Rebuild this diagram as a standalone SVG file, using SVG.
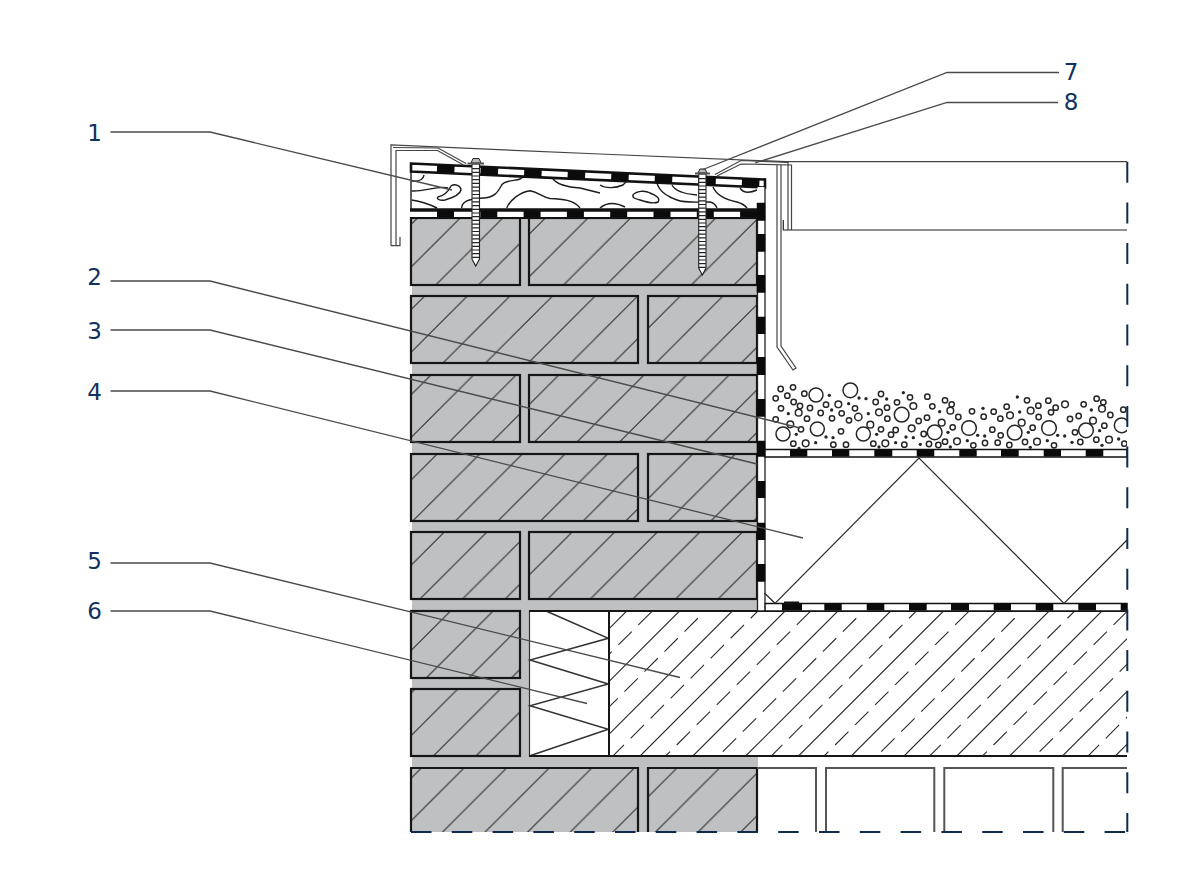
<svg xmlns="http://www.w3.org/2000/svg" width="1200" height="876" viewBox="0 0 1200 876">
<style>
.brick{fill:url(#hatch);stroke:#161616;stroke-width:2.2}
.thin{fill:none;stroke:#2a2a2a;stroke-width:1.2}
.zig{fill:none;stroke:#333;stroke-width:1.5}
.fl{fill:none;stroke:#444;stroke-width:1.2}
.mem{fill:#fff;stroke:#111;stroke-width:1.5}
.blk{fill:none;stroke:#0b0b0b}
.wood{fill:none;stroke:#1c1c1c;stroke-width:1.4}
.lead{fill:none;stroke:#4a4a4a;stroke-width:1.3}
.nav{fill:none;stroke:#10294f;stroke-width:2}
.num{font-family:"DejaVu Sans",sans-serif;font-size:23px;fill:#12315f;text-anchor:middle}
.scr{fill:#fff;stroke:#222;stroke-width:1.1}
.g circle{fill:none;stroke:#262626;stroke-width:4.5}
.g .d{fill:#262626;stroke:none}
</style>
<defs>
<pattern id="hatch" patternUnits="userSpaceOnUse" width="42.6" height="42.6">
<rect width="42.6" height="42.6" fill="#bfc0c1"/>
<path d="M-1 40.2L40.2 -1M38.2 43.6L43.6 38.2" stroke="#2b2b2b" stroke-width="1" fill="none"/>
</pattern>
<clipPath id="cc"><rect x="609" y="611" width="518" height="145"/></clipPath>
<clipPath id="gc"><rect x="765" y="370" width="362" height="79"/></clipPath>
</defs>
<rect width="1200" height="876" fill="#fff"/>
<g id="mortar"><rect x="412" y="218" width="346" height="614" fill="#bfc0c1"/></g>
<g id="bricks">
<rect class="brick" x="411" y="218" width="109" height="67"/>
<rect class="brick" x="529" y="218" width="228" height="67"/>
<rect class="brick" x="411" y="296" width="227" height="67"/>
<rect class="brick" x="648" y="296" width="109" height="67"/>
<rect class="brick" x="411" y="375" width="109" height="67"/>
<rect class="brick" x="529" y="375" width="228" height="67"/>
<rect class="brick" x="411" y="454" width="227" height="67"/>
<rect class="brick" x="648" y="454" width="109" height="67"/>
<rect class="brick" x="411" y="532" width="109" height="67"/>
<rect class="brick" x="529" y="532" width="228" height="67"/>
<rect class="brick" x="411" y="611" width="109" height="67"/>
<rect class="brick" x="411" y="689" width="109" height="67"/>
<path class="brick" d="M411 832V768H638V832"/>
<path class="brick" d="M648 832V768H757V832"/>
</g>
<g id="cavity-insulation">
<rect x="529.5" y="611" width="79.5" height="145" fill="#fff" stroke="#333" stroke-width="1.2"/>
<path class="zig" d="M546 611L608.3 638.3L530 660L608.3 684L530 705.7L608.3 729.3L530 755.7"/>
</g>
<g id="concrete">
<rect x="609" y="611" width="518" height="145" fill="#fff"/>
<g clip-path="url(#cc)">
<path fill="none" stroke="#2b2b2b" stroke-width="1.1" d="M481.7 756L626.7 611M534.5 756L679.5 611M587.3 756L732.3 611M640.1 756L785.1 611M692.9 756L837.9 611M745.7 756L890.7 611M798.5 756L943.5 611M851.3 756L996.3 611M904.1 756L1049.1 611M956.9 756L1101.9 611M1009.7 756L1154.7 611M1062.5 756L1207.5 611M1115.3 756L1260.3 611"/>
<path fill="none" stroke="#2b2b2b" stroke-width="1.1" stroke-dasharray="18.9 9.4" d="M498.3 765L663.3 600M544.4 771.67L716.1 600M610.6 758.33L768.9 600M656.7 765L821.7 600M702.8 771.67L874.5 600M769 758.33L927.3 600M815.1 765L980.1 600M861.2 771.67L1032.9 600M927.4 758.33L1085.7 600M973.5 765L1138.5 600M1019.6 771.67L1191.3 600M1085.8 758.33L1244.1 600"/>
</g>
<path d="M529 611H1127M529 756H1127M609 611V756" fill="none" stroke="#161616" stroke-width="2"/>
</g>
<g id="blocks">
<path fill="none" stroke="#555" stroke-width="2" d="M757 768H816V832M826 832V768H934.3V832M944.3 832V768H1053.3V832M1062.7 832V768H1127"/>
</g>
<g id="timber">
<path d="M411 171H757V209H411Z" fill="#fff"/>
<path class="wood" d="M411 172V209"/>
<path class="wood" d="M411.7 181Q423 182 424 175M411.7 191C423 192 440 185 448 188M438 197C443 196 448 192 451 186C455 183 461 186 461 190C460 195 452 198 445 200C440 201 436 199 438 197ZM411.7 200Q425 202 437 208M461.7 208C462 202 467 199 483 198C494 198 498 192 501.7 185C505 180 516 181 520 179Q524 177 525 175M506.7 208C510 200 520 192 530 190.7C538 192 542 197 550 198.5C562 199 574 200 580 208M553 179C557 184 565 187 580 188L600 193M600 185C606 189 616 188 623 185L628 180M600 208C606 203 615 202 625 207M633 195C636 191 645 190 650 193C655 195 661 198 658 202C654 204 646 202 640 200C636 199 632 198 633 195ZM657 183C659 191 668 197 677 200C684 203 700 202 710 202Q715 203 717 208M672 185C675 191 685 194 697 195M713 187C716 194 722 199 737 202Q744 204 747 208M740 188C744 194 750 193 757 190"/>
</g>
<g id="membrane-top">
<path class="mem" style="stroke-width:2.6" d="M411 163.5L765 179.5V187.5L411 171.5Z"/>
<path class="blk" stroke-width="7.5" stroke-dasharray="17.5 26.1" d="M437 168.7L765 183.5"/>
</g>
<g id="membrane-under-timber">
<rect x="411" y="210" width="346" height="8" fill="#fff"/>
<path class="blk" stroke-width="7" stroke-dasharray="17 26.3" d="M437 214.5H757"/>
<path d="M410 210H757" stroke="#111" stroke-width="3.4"/>
<path d="M411 218H757" stroke="#111" stroke-width="2"/>
</g>
<g id="membrane-wall">
<rect x="757.5" y="187" width="7.5" height="424" fill="#fff"/>
<path d="M765 187V603M757.5 218V611H1127" fill="none" stroke="#222" stroke-width="1.3"/>
<path class="blk" stroke-width="8.5" d="M761 202.7V220.7M761 234V251.7M761 275V292.7M761 316.7V334M761 357V375M761 399V416.7M761 440.7V456.7M761 481V498M761 522.7V540M761 564V581.7"/>
</g>
<g id="membrane-deck">
<path class="mem" d="M765 603.5H1127V611H765Z"/>
<path class="blk" stroke-width="7" d="M782 607H802M824.3 607H841.7M866.7 607H884.3M909 607H926.7M951 607H969M993.7 607H1011M1035.7 607H1053.3M1078.3 607H1096M1120.7 607H1127"/>
<rect x="784" y="601.5" width="15" height="3" fill="#111"/>
</g>
<g id="membrane-upper">
<path class="mem" d="M765 449.5H1127V457H765Z"/>
<path class="blk" stroke-width="7" d="M790 453H807.3M832 453H849.3M874.3 453H892.3M916.7 453H934.3M959.3 453H976.7M1001 453H1018.7M1043.7 453H1061M1085.7 453H1103.3"/>
</g>
<g id="drainage-layer">
<path class="thin" d="M764.5 593L775 603.3L919 458L1064 603.3L1127 540"/>
</g>
<g id="gravel" clip-path="url(#gc)">
<g class="g" transform="translate(750 340) scale(.33333)">
<circle cx="198" cy="165" r="21"/><circle cx="301" cy="151" r="22"/><circle cx="99" cy="282" r="21"/><circle cx="202" cy="267" r="21"/><circle cx="340" cy="282" r="21"/><circle cx="455" cy="224" r="22"/><circle cx="554" cy="277" r="22"/>
<circle cx="92" cy="147" r="8"/><circle cx="129" cy="142" r="8"/><circle cx="112" cy="167" r="8"/><circle cx="77" cy="175" r="8"/><circle cx="163" cy="161" r="8"/><circle cx="131" cy="186" r="8"/><circle cx="93" cy="205" r="8"/><circle cx="150" cy="198" r="8"/><circle cx="180" cy="204" r="8"/><circle cx="146" cy="218" r="10"/><circle cx="212" cy="219" r="8"/><circle cx="228" cy="194" r="8"/><circle cx="265" cy="193" r="10"/><circle cx="275" cy="220" r="8"/><circle cx="315" cy="205" r="8"/><circle cx="246" cy="235" r="8"/><circle cx="171" cy="236" r="8"/><circle cx="297" cy="241" r="8"/><circle cx="325" cy="231" r="11"/><circle cx="377" cy="186" r="8"/><circle cx="393" cy="162" r="8"/><circle cx="411" cy="203" r="8"/><circle cx="387" cy="217" r="10"/><circle cx="412" cy="236" r="8"/><circle cx="441" cy="187" r="8"/><circle cx="480" cy="172" r="8"/><circle cx="490" cy="198" r="10"/><circle cx="532" cy="170" r="8"/><circle cx="547" cy="199" r="8"/><circle cx="531" cy="233" r="8"/><circle cx="506" cy="243" r="8"/><circle cx="77" cy="238" r="8"/><circle cx="121" cy="253" r="10"/><circle cx="153" cy="268" r="8"/><circle cx="273" cy="274" r="8"/><circle cx="361" cy="254" r="10"/><circle cx="393" cy="268" r="8"/><circle cx="437" cy="270" r="8"/><circle cx="423" cy="284" r="8"/><circle cx="485" cy="265" r="10"/><circle cx="521" cy="282" r="8"/><circle cx="130" cy="311" r="8"/><circle cx="167" cy="310" r="10"/><circle cx="250" cy="314" r="8"/><circle cx="288" cy="314" r="8"/><circle cx="370" cy="311" r="8"/><circle cx="406" cy="310" r="10"/><circle cx="463" cy="314" r="8"/><circle cx="537" cy="312" r="8"/><circle cx="565" cy="315" r="8"/>
<circle class="d" cx="238" cy="166" r="5"/><circle class="d" cx="327" cy="174" r="5"/><circle class="d" cx="348" cy="176" r="5"/><circle class="d" cx="296" cy="191" r="5"/><circle class="d" cx="245" cy="210" r="5"/><circle class="d" cx="355" cy="221" r="5"/><circle class="d" cx="410" cy="177" r="5"/><circle class="d" cx="460" cy="158" r="5"/><circle class="d" cx="115" cy="221" r="5"/><circle class="d" cx="139" cy="283" r="5"/><circle class="d" cx="228" cy="291" r="5"/><circle class="d" cx="249" cy="293" r="5"/><circle class="d" cx="380" cy="283" r="5"/><circle class="d" cx="468" cy="291" r="5"/><circle class="d" cx="490" cy="293" r="5"/><circle class="d" cx="569" cy="215" r="5"/><circle class="d" cx="197" cy="308" r="5"/><circle class="d" cx="437" cy="308" r="5"/><circle class="d" cx="511" cy="313" r="5"/><circle class="d" cx="147" cy="325" r="5"/><circle class="d" cx="387" cy="321" r="5"/>
</g>
<g class="g" transform="translate(940 370) scale(.33333)">
<circle cx="87" cy="174" r="22"/><circle cx="224" cy="188" r="22"/><circle cx="327" cy="174" r="22"/><circle cx="438" cy="181" r="22"/><circle cx="545" cy="166" r="22"/>
<circle cx="15" cy="91" r="8"/><circle cx="35" cy="103" r="8"/><circle cx="31" cy="122" r="10"/><circle cx="55" cy="141" r="8"/><circle cx="96" cy="124" r="8"/><circle cx="161" cy="125" r="8"/><circle cx="131" cy="140" r="8"/><circle cx="181" cy="146" r="8"/><circle cx="200" cy="110" r="8"/><circle cx="210" cy="136" r="10"/><circle cx="261" cy="91" r="8"/><circle cx="295" cy="107" r="8"/><circle cx="272" cy="122" r="10"/><circle cx="296" cy="141" r="8"/><circle cx="325" cy="92" r="8"/><circle cx="347" cy="113" r="8"/><circle cx="333" cy="127" r="8"/><circle cx="375" cy="103" r="10"/><circle cx="431" cy="103" r="8"/><circle cx="470" cy="86" r="8"/><circle cx="490" cy="97" r="8"/><circle cx="486" cy="116" r="10"/><circle cx="511" cy="135" r="8"/><circle cx="550" cy="119" r="8"/><circle cx="390" cy="147" r="8"/><circle cx="416" cy="138" r="8"/><circle cx="459" cy="152" r="10"/><circle cx="245" cy="158" r="10"/><circle cx="38" cy="172" r="8"/><circle cx="157" cy="179" r="8"/><circle cx="182" cy="196" r="8"/><circle cx="278" cy="173" r="8"/><circle cx="405" cy="187" r="8"/><circle cx="493" cy="167" r="8"/><circle cx="15" cy="215" r="8"/><circle cx="51" cy="214" r="10"/><circle cx="100" cy="226" r="8"/><circle cx="135" cy="219" r="8"/><circle cx="173" cy="218" r="8"/><circle cx="208" cy="225" r="8"/><circle cx="255" cy="216" r="8"/><circle cx="291" cy="215" r="10"/><circle cx="342" cy="226" r="8"/><circle cx="421" cy="216" r="8"/><circle cx="469" cy="209" r="8"/><circle cx="507" cy="209" r="10"/><circle cx="553" cy="221" r="8"/><circle cx="5" cy="158" r="10"/>
<circle class="d" cx="232" cy="81" r="5"/><circle class="d" cx="129" cy="115" r="5"/><circle class="d" cx="239" cy="126" r="5"/><circle class="d" cx="454" cy="120" r="5"/><circle class="d" cx="24" cy="187" r="5"/><circle class="d" cx="265" cy="187" r="5"/><circle class="d" cx="479" cy="182" r="5"/><circle class="d" cx="113" cy="196" r="5"/><circle class="d" cx="134" cy="198" r="5"/><circle class="d" cx="353" cy="196" r="5"/><circle class="d" cx="374" cy="198" r="5"/><circle class="d" cx="82" cy="212" r="5"/><circle class="d" cx="322" cy="212" r="5"/><circle class="d" cx="396" cy="217" r="5"/><circle class="d" cx="536" cy="207" r="5"/><circle class="d" cx="31" cy="231" r="5"/><circle class="d" cx="271" cy="232" r="5"/><circle class="d" cx="486" cy="226" r="5"/>
</g>
</g>
<g id="flashing">
<path class="fl" d="M391 245.7V145L600 154L786 161.7H1127"/>
<path class="fl" d="M396 245.7V150.5H437.5L463.5 165"/>
<path class="fl" d="M393 147.5L438 148L466 163.5"/>
<path class="fl" d="M400 237V245.7H391"/>
<path class="fl" d="M715 174.5L741 160.5L788 162.5V230"/>
<path class="fl" d="M717 176L741 164L791.5 165V230"/>
<path class="fl" d="M783.3 220V230H1127" style="stroke:#222"/>
<path class="fl" d="M777 165V347L793 370L796 368L781 346V165"/>
</g>
<g id="screw-left">
<path class="scr" d="M472 164H479.5V259L475.7 266L472 259Z"/>
<path fill="none" stroke="#222" stroke-dasharray="1.2 2.5" d="M475.7 168V259" style="stroke-width:7"/>
<path fill="#bbb" stroke="#222" d="M471 163L473 158.5H479L481 163Z"/>
<rect x="467.5" y="162.5" width="16.5" height="2" fill="#555"/>
</g>
<g id="screw-right">
<path class="scr" d="M698.7 174H706V268L702.3 275L698.7 268Z"/>
<path fill="none" stroke="#222" stroke-dasharray="1.2 2.5" d="M702.3 178V268" style="stroke-width:7"/>
<path fill="#bbb" stroke="#222" d="M698 173L700 169H705L707 173Z"/>
<rect x="695" y="172.5" width="15" height="2" fill="#555"/>
</g>
<g id="boundary">
<path class="nav" stroke-dasharray="21 19.7" d="M1127.3 161.7V832"/>
<path class="nav" stroke-dasharray="20.5 20.3" d="M411 832H1127"/>
</g>
<g id="connectors">
<path class="lead" d="M110.5 132H210L452 190"/>
<path class="lead" d="M110.5 281H210L800 428"/>
<path class="lead" d="M110.5 330H210L757 464"/>
<path class="lead" d="M110.5 391H210L803 538"/>
<path class="lead" d="M110.5 563H210L680 677.5"/>
<path class="lead" d="M110.5 611H210L587 703.5"/>
<path class="lead" d="M1059 72.5H947L703 169.5"/>
<path class="lead" d="M1058 102.5H947L755 163"/>
</g>
<g id="labels">
<text class="num" x="94.5" y="141">1</text>
<text class="num" x="94.5" y="284.5">2</text>
<text class="num" x="94.5" y="338.5">3</text>
<text class="num" x="94.5" y="400">4</text>
<text class="num" x="94.5" y="568.5">5</text>
<text class="num" x="94.5" y="619">6</text>
<text class="num" x="1071" y="80">7</text>
<text class="num" x="1071" y="110">8</text>
</g>
</svg>
